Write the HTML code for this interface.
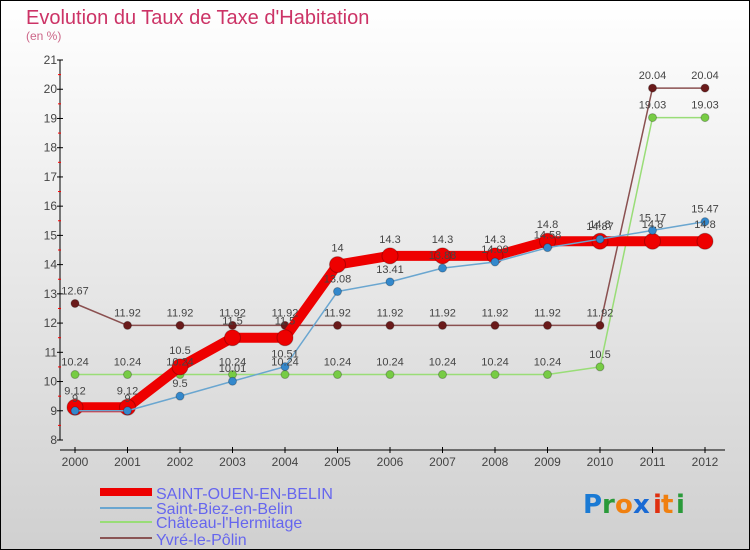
<!DOCTYPE html>
<html><head><meta charset="utf-8"><style>
body{margin:0;}
#c{position:relative;width:750px;height:550px;box-sizing:border-box;border:1px solid #000;background:linear-gradient(#fff,#d0d0d0);font-family:"Liberation Sans",sans-serif;overflow:hidden;}
</style></head><body>
<div id="c">
<svg id="s" width="750" height="550" style="position:absolute;left:-1px;top:-1px">
<text x="26" y="24" font-size="20" fill="#cc3366">Evolution du Taux de Taxe d'Habitation</text>
<text x="26" y="40" font-size="12" fill="#cc6688">(en %)</text>
<g id="axes"></g><g id="series"></g><g id="labels"></g>
<g>
<rect x="100" y="488" width="52" height="8" fill="#e00"/>
<text x="156" y="499" font-size="16" fill="#6666ee">SAINT-OUEN-EN-BELIN</text>
<rect x="100" y="507" width="52" height="2" fill="#6aa6d0"/>
<text x="156" y="514" font-size="16" fill="#6666ee">Saint-Biez-en-Belin</text>
<rect x="100" y="521" width="52" height="2" fill="#99dd77"/>
<text x="156" y="528" font-size="16" fill="#6666ee">Château-l'Hermitage</text>
<rect x="100" y="537" width="52" height="2" fill="#8a5555"/>
<text x="156" y="545" font-size="16" fill="#6666ee">Yvré-le-Pôlin</text>
</g>
<g font-size="26" font-family="'DejaVu Sans',sans-serif" font-weight="bold">
<text x="583" y="513" fill="#1a7ad4">P</text><text x="602" y="513" fill="#2a9a3a">r</text><text x="615" y="513" fill="#f08010">o</text><text x="633" y="513" fill="#1a6ad4">x</text><text x="653" y="513" fill="#e03010">i</text><text x="661" y="513" fill="#f08010">t</text><text x="676" y="513" fill="#2a9a3a">i</text>
</g>
</svg>
</div>
<script>
const years=[2000,2001,2002,2003,2004,2005,2006,2007,2008,2009,2010,2011,2012];
const yTicks=[8,9,10,11,12,13,14,15,16,17,18,19,20,21];
const stOuen=[9.12,9.12,10.5,11.5,11.5,14,14.3,14.3,14.3,14.8,14.8,14.8,14.8];
const stBiez=[9,9,9.5,10.01,10.51,13.08,13.41,13.88,14.09,14.58,14.87,15.17,15.47];
const chateau=[10.24,10.24,10.24,10.24,10.24,10.24,10.24,10.24,10.24,10.24,10.5,19.03,19.03];
const yvre=[12.67,11.92,11.92,11.92,11.92,11.92,11.92,11.92,11.92,11.92,11.92,20.04,20.04];
const NS="http://www.w3.org/2000/svg";
const X=i=>75+i*52.5, Y=v=>440-(v-8)*29.23;
function mk(t,a,p){const e=document.createElementNS(NS,t);for(const k in a)e.setAttribute(k,a[k]);p.appendChild(e);return e;}
const ax=document.getElementById('axes');
let e=mk('line',{x1:60,y1:Y(21),x2:60,y2:Y(8),stroke:'#000','stroke-width':1},ax);


e=mk('line',{x1:60,y1:450,x2:725,y2:450,stroke:'#000','stroke-width':1},ax);


yTicks.forEach(v=>{
 mk('line',{x1:57,y1:Y(v),x2:63,y2:Y(v),stroke:'#000'},ax);
 if(v<21)mk('line',{x1:58,y1:Y(v+0.5),x2:61,y2:Y(v+0.5),stroke:'#f00'},ax);
 const t=mk('text',{x:57,y:Y(v)+4,'font-size':12,fill:'#444','text-anchor':'end'},ax);t.textContent=v;
 
 
});
years.forEach((y,i)=>{
 mk('line',{x1:X(i),y1:447,x2:X(i),y2:453,stroke:'#000'},ax);
 const t=mk('text',{x:X(i),y:466,'font-size':12,fill:'#444','text-anchor':'middle'},ax);t.textContent=y;
 
 
});
const sg=document.getElementById('series'),lg=document.getElementById('labels');
function draw(vals,name,col,dot,w,r){
 const g=mk('g',{},sg);
 
 
 mk('polyline',{points:vals.map((v,i)=>X(i)+','+Y(v)).join(' '),fill:'none',stroke:col,'stroke-width':w,'stroke-linejoin':'round'},g);
 vals.forEach((v,i)=>{
  const c=mk('circle',{cx:X(i),cy:Y(v),r:r,fill:dot,stroke:'rgba(0,0,0,0.25)','stroke-width':1},g);
  
  
  const t=mk('text',{x:X(i),y:Y(v)-(r+5),'font-size':11,fill:'#444','text-anchor':'middle'},lg);t.textContent=v;
  
  
 });
}
draw(yvre,'series-yvre','#8a5050','#6a1a1a',1.5,4);
draw(chateau,'series-chateau','#99dd77','#77cc44',1.5,4);
draw(stOuen,'series-saint-ouen','#ee0000','#ee0000',10,8);
draw(stBiez,'series-saint-biez','#6aa6d0','#3388cc',1.5,4);
</script>
</body></html>
